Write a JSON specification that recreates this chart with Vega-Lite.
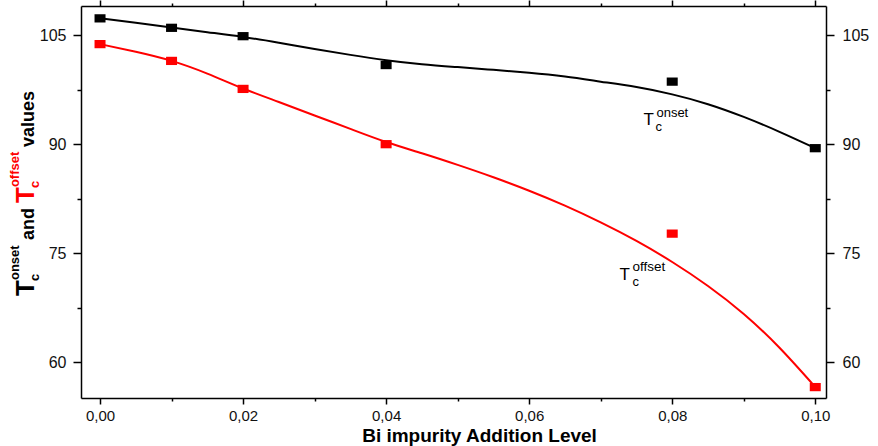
{
  "$schema": "https://vega.github.io/schema/vega-lite/v6.json",
  "width": 745,
  "height": 392,
  "autosize": {"type": "none"},
  "padding": {"left": 81, "top": 6, "right": 52, "bottom": 48},
  "background": "white",
  "config": {"view": {"stroke": null}, "font": "Liberation Sans"},
  "datasets": {
    "points": [
      {"series": "onset", "x": 0.0, "y": 107.3},
      {"series": "onset", "x": 0.01, "y": 106.0},
      {"series": "onset", "x": 0.02, "y": 104.85},
      {"series": "onset", "x": 0.04, "y": 100.88},
      {"series": "onset", "x": 0.08, "y": 98.6},
      {"series": "onset", "x": 0.10, "y": 89.45},
      {"series": "offset", "x": 0.0, "y": 103.76},
      {"series": "offset", "x": 0.01, "y": 101.45},
      {"series": "offset", "x": 0.02, "y": 97.6},
      {"series": "offset", "x": 0.04, "y": 90.0},
      {"series": "offset", "x": 0.08, "y": 77.7},
      {"series": "offset", "x": 0.10, "y": 56.6}
    ],
    "curves": [
      {"series": "onset", "x": 0.0, "y": 107.3},
      {"series": "onset", "x": 0.005, "y": 106.7},
      {"series": "onset", "x": 0.01, "y": 106.05},
      {"series": "onset", "x": 0.015, "y": 105.4},
      {"series": "onset", "x": 0.02, "y": 104.75},
      {"series": "onset", "x": 0.025, "y": 103.95},
      {"series": "onset", "x": 0.03, "y": 103.1},
      {"series": "onset", "x": 0.035, "y": 102.28},
      {"series": "onset", "x": 0.04, "y": 101.55},
      {"series": "onset", "x": 0.045, "y": 101.0},
      {"series": "onset", "x": 0.05, "y": 100.6},
      {"series": "onset", "x": 0.055, "y": 100.22},
      {"series": "onset", "x": 0.06, "y": 99.82},
      {"series": "onset", "x": 0.065, "y": 99.3},
      {"series": "onset", "x": 0.07, "y": 98.6},
      {"series": "onset", "x": 0.075, "y": 97.85},
      {"series": "onset", "x": 0.08, "y": 96.85},
      {"series": "onset", "x": 0.085, "y": 95.5},
      {"series": "onset", "x": 0.09, "y": 93.75},
      {"series": "onset", "x": 0.095, "y": 91.7},
      {"series": "onset", "x": 0.10, "y": 89.45},
      {"series": "offset", "x": 0.0, "y": 103.76},
      {"series": "offset", "x": 0.005, "y": 102.7},
      {"series": "offset", "x": 0.01, "y": 101.45},
      {"series": "offset", "x": 0.015, "y": 99.7},
      {"series": "offset", "x": 0.02, "y": 97.65},
      {"series": "offset", "x": 0.025, "y": 95.8},
      {"series": "offset", "x": 0.03, "y": 93.95},
      {"series": "offset", "x": 0.035, "y": 92.1},
      {"series": "offset", "x": 0.04, "y": 90.3},
      {"series": "offset", "x": 0.045, "y": 88.75},
      {"series": "offset", "x": 0.05, "y": 87.15},
      {"series": "offset", "x": 0.055, "y": 85.45},
      {"series": "offset", "x": 0.06, "y": 83.6},
      {"series": "offset", "x": 0.065, "y": 81.55},
      {"series": "offset", "x": 0.07, "y": 79.25},
      {"series": "offset", "x": 0.075, "y": 76.7},
      {"series": "offset", "x": 0.08, "y": 73.8},
      {"series": "offset", "x": 0.085, "y": 70.5},
      {"series": "offset", "x": 0.09, "y": 66.65},
      {"series": "offset", "x": 0.095, "y": 62.0},
      {"series": "offset", "x": 0.10, "y": 56.6}
    ]
  },
  "layer": [
    {
      "data": {"name": "curves"},
      "mark": {"type": "line", "interpolate": "natural", "strokeWidth": 2, "clip": true},
      "encoding": {
        "x": {
          "field": "x", "type": "quantitative",
          "scale": {"domain": [-0.00266, 0.1015], "nice": false, "zero": false},
          "axis": {
            "orient": "bottom",
            "values": [0, 0.01, 0.02, 0.03, 0.04, 0.05, 0.06, 0.07, 0.08, 0.09, 0.1],
            "labelExpr": "round(datum.value*100) % 2 == 0 ? replace(format(datum.value, '.2f'), '.', ',') : ''",
            "tickSize": {"condition": {"test": "round(datum.value*100) % 2 == 1", "value": 3}, "value": 6},
            "tickWidth": 1.5, "tickColor": "#000",
            "domainColor": "#000", "domainWidth": 1.5,
            "labelFontSize": 15, "labelColor": "#111", "labelPadding": 4,
            "labelFlush": false, "labelOverlap": false,
            "grid": false,
            "title": "Bi impurity Addition Level",
            "titleFontSize": 19, "titleFontWeight": "bold", "titleColor": "#000",
            "titleX": 398, "titleY": 43, "titleAlign": "center", "titleBaseline": "alphabetic"
          }
        },
        "y": {
          "field": "y", "type": "quantitative",
          "scale": {"domain": [55.1, 109.0], "nice": false, "zero": false},
          "axis": {
            "orient": "left",
            "values": [60, 67.5, 75, 82.5, 90, 97.5, 105],
            "labelExpr": "datum.value % 15 == 0 ? format(datum.value, 'd') : ''",
            "tickSize": {"condition": {"test": "datum.value % 15 != 0", "value": 4}, "value": 8},
            "tickWidth": 1.5, "tickColor": "#000",
            "domainColor": "#000", "domainWidth": 1.5,
            "labelFontSize": 16, "labelColor": "#111", "labelPadding": 7,
            "labelOverlap": false, "grid": false, "title": null
          }
        },
        "color": {
          "field": "series", "type": "nominal",
          "scale": {"domain": ["onset", "offset"], "range": ["#000000", "#ff0000"]},
          "legend": null
        }
      }
    },
    {
      "data": {"name": "points"},
      "mark": {"type": "point", "shape": "M-1,-0.75H1V0.75H-1Z", "filled": true, "size": 121, "opacity": 1},
      "encoding": {
        "x": {
          "field": "x", "type": "quantitative",
          "axis": {
            "orient": "top",
            "values": [0, 0.01, 0.02, 0.03, 0.04, 0.05, 0.06, 0.07, 0.08, 0.09, 0.1],
            "labels": false,
            "tickSize": {"condition": {"test": "round(datum.value*100) % 2 == 1", "value": 3}, "value": 6},
            "tickWidth": 1.5, "tickColor": "#000",
            "domainColor": "#000", "domainWidth": 1.5,
            "grid": false, "title": null
          }
        },
        "y": {
          "field": "y", "type": "quantitative",
          "axis": {
            "orient": "right",
            "values": [60, 67.5, 75, 82.5, 90, 97.5, 105],
            "labelExpr": "datum.value % 15 == 0 ? format(datum.value, 'd') : ''",
            "tickSize": {"condition": {"test": "datum.value % 15 != 0", "value": 4}, "value": 8},
            "tickWidth": 1.5, "tickColor": "#000",
            "domainColor": "#000", "domainWidth": 1.5,
            "labelFontSize": 16, "labelColor": "#111", "labelPadding": 8,
            "labelOverlap": false, "grid": false, "title": null
          }
        },
        "color": {"field": "series", "type": "nominal", "legend": null}
      }
    },
    {
      "data": {"values": [{}]},
      "mark": {"type": "text", "text": "T", "align": "left", "baseline": "alphabetic", "fontSize": 17, "color": "#000", "clip": false},
      "encoding": {"x": {"datum": 0.07598, "type": "quantitative", "axis": null}, "y": {"datum": 92.63, "type": "quantitative", "axis": null}}
    },
    {
      "data": {"values": [{}]},
      "mark": {"type": "text", "text": "onset", "align": "left", "baseline": "alphabetic", "fontSize": 13, "color": "#000", "clip": false},
      "encoding": {"x": {"datum": 0.07779, "type": "quantitative", "axis": null}, "y": {"datum": 93.74, "type": "quantitative", "axis": null}}
    },
    {
      "data": {"values": [{}]},
      "mark": {"type": "text", "text": "c", "align": "left", "baseline": "alphabetic", "fontSize": 13, "color": "#000", "clip": false},
      "encoding": {"x": {"datum": 0.07765, "type": "quantitative", "axis": null}, "y": {"datum": 91.8, "type": "quantitative", "axis": null}}
    },
    {
      "data": {"values": [{}]},
      "mark": {"type": "text", "text": "T", "align": "left", "baseline": "alphabetic", "fontSize": 17, "color": "#000", "clip": false},
      "encoding": {"x": {"datum": 0.07262, "type": "quantitative", "axis": null}, "y": {"datum": 71.32, "type": "quantitative", "axis": null}}
    },
    {
      "data": {"values": [{}]},
      "mark": {"type": "text", "text": "offset", "align": "left", "baseline": "alphabetic", "fontSize": 13.5, "color": "#000", "clip": false},
      "encoding": {"x": {"datum": 0.07444, "type": "quantitative", "axis": null}, "y": {"datum": 72.63, "type": "quantitative", "axis": null}}
    },
    {
      "data": {"values": [{}]},
      "mark": {"type": "text", "text": "c", "align": "left", "baseline": "alphabetic", "fontSize": 13, "color": "#000", "clip": false},
      "encoding": {"x": {"datum": 0.07444, "type": "quantitative", "axis": null}, "y": {"datum": 70.5, "type": "quantitative", "axis": null}}
    },
    {
      "data": {"values": [{}]},
      "mark": {"type": "text", "text": "T", "angle": 270, "align": "left", "baseline": "alphabetic", "fontWeight": "bold", "fontSize": 26, "color": "#000", "clip": false},
      "encoding": {"x": {"datum": -0.009235, "type": "quantitative", "axis": null}, "y": {"datum": 69.12, "type": "quantitative", "axis": null}}
    },
    {
      "data": {"values": [{}]},
      "mark": {"type": "text", "text": "c", "angle": 270, "align": "left", "baseline": "alphabetic", "fontWeight": "bold", "fontSize": 13, "color": "#000", "clip": false},
      "encoding": {"x": {"datum": -0.008535, "type": "quantitative", "axis": null}, "y": {"datum": 71.18, "type": "quantitative", "axis": null}}
    },
    {
      "data": {"values": [{}]},
      "mark": {"type": "text", "text": "onset", "angle": 270, "align": "left", "baseline": "alphabetic", "fontWeight": "bold", "fontSize": 13, "color": "#000", "clip": false},
      "encoding": {"x": {"datum": -0.01133, "type": "quantitative", "axis": null}, "y": {"datum": 71.32, "type": "quantitative", "axis": null}}
    },
    {
      "data": {"values": [{}]},
      "mark": {"type": "text", "text": "and", "angle": 270, "align": "left", "baseline": "alphabetic", "fontWeight": "bold", "fontSize": 18, "color": "#000", "clip": false},
      "encoding": {"x": {"datum": -0.009235, "type": "quantitative", "axis": null}, "y": {"datum": 76.82, "type": "quantitative", "axis": null}}
    },
    {
      "data": {"values": [{}]},
      "mark": {"type": "text", "text": "T", "angle": 270, "align": "left", "baseline": "alphabetic", "fontWeight": "bold", "fontSize": 26, "color": "#ff0000", "clip": false},
      "encoding": {"x": {"datum": -0.009235, "type": "quantitative", "axis": null}, "y": {"datum": 81.9, "type": "quantitative", "axis": null}}
    },
    {
      "data": {"values": [{}]},
      "mark": {"type": "text", "text": "c", "angle": 270, "align": "left", "baseline": "alphabetic", "fontWeight": "bold", "fontSize": 13, "color": "#ff0000", "clip": false},
      "encoding": {"x": {"datum": -0.008535, "type": "quantitative", "axis": null}, "y": {"datum": 83.97, "type": "quantitative", "axis": null}}
    },
    {
      "data": {"values": [{}]},
      "mark": {"type": "text", "text": "offset", "angle": 270, "align": "left", "baseline": "alphabetic", "fontWeight": "bold", "fontSize": 13, "color": "#ff0000", "clip": false},
      "encoding": {"x": {"datum": -0.01133, "type": "quantitative", "axis": null}, "y": {"datum": 84.1, "type": "quantitative", "axis": null}}
    },
    {
      "data": {"values": [{}]},
      "mark": {"type": "text", "text": "values", "angle": 270, "align": "left", "baseline": "alphabetic", "fontWeight": "bold", "fontSize": 18, "color": "#000", "clip": false},
      "encoding": {"x": {"datum": -0.009235, "type": "quantitative", "axis": null}, "y": {"datum": 89.6, "type": "quantitative", "axis": null}}
    }
  ],
  "resolve": {"axis": {"x": "independent", "y": "independent"}}
}
